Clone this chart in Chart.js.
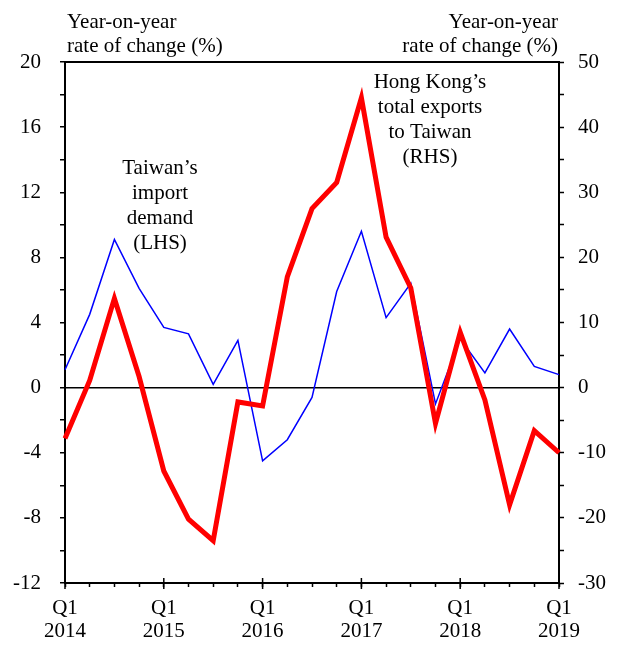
<!DOCTYPE html>
<html lang="en">
<head>
  <meta charset="UTF-8" />
  <title>Taiwan import demand vs Hong Kong exports to Taiwan</title>
  <script src="https://cdn.jsdelivr.net/npm/chart.js"></script>
  <style>
    html, body { margin: 0; padding: 0; background: #fff; }
    #wrap { width: 619px; height: 649px; }
  </style>
</head>
<body>
  <div id="wrap"><canvas id="chart" width="619" height="649"></canvas></div>

  <script>
    // quarters, Q1 2014 .. Q1 2019
    const quarters = [
      "2014 Q1", "2014 Q2", "2014 Q3", "2014 Q4",
      "2015 Q1", "2015 Q2", "2015 Q3", "2015 Q4",
      "2016 Q1", "2016 Q2", "2016 Q3", "2016 Q4",
      "2017 Q1", "2017 Q2", "2017 Q3", "2017 Q4",
      "2018 Q1", "2018 Q2", "2018 Q3", "2018 Q4",
      "2019 Q1"
    ];

    // Taiwan's import demand, yoy % (LHS)
    const taiwanImportDemand = [
      1.1, 4.5, 9.1, 6.1, 3.7, 3.3, 0.2, 2.9, -4.5, -3.2, -0.6,
      5.9, 9.6, 4.3, 6.4, -1.0, 3.0, 0.9, 3.6, 1.3, 0.8
    ];

    // Hong Kong's total exports to Taiwan, yoy % (RHS)
    const hkExportsToTaiwan = [
      -7.8, 1.1, 13.7, 1.7, -12.8, -20.2, -23.5, -2.2, -2.8, 17.0, 27.5,
      31.5, 44.5, 23.1, 15.3, -5.5, 8.5, -1.9, -18.0, -6.6, -10.0
    ];

    const leftAxis = { min: -12, max: 20, step: 2, labelEvery: 4 };
    const rightAxis = { min: -30, max: 50, step: 5, labelEvery: 10 };

    const FONT = "'Liberation Serif', 'Times New Roman', serif";
    const FS = 21;

    // top frame line, longer Q1 ticks, free text labels
    const extras = {
      id: "extras",
      afterDraw(chart) {
        const { ctx, chartArea: a } = chart;
        const xs = chart.scales.x;
        ctx.save();
        ctx.strokeStyle = "#000";
        ctx.lineWidth = 2;
        ctx.beginPath();
        ctx.moveTo(a.left - 1, a.top);
        ctx.lineTo(a.right + 1, a.top);
        ctx.stroke();

        // Q1 ticks cross the axis line
        ctx.lineWidth = 1.5;
        quarters.forEach((q, i) => {
          if (q.endsWith("Q1")) {
            const px = xs.getPixelForValue(i);
            ctx.beginPath();
            ctx.moveTo(px, a.bottom - 5);
            ctx.lineTo(px, a.bottom + 6);
            ctx.stroke();
          }
        });

        ctx.fillStyle = "#000";
        ctx.font = FS + "px " + FONT;
        ctx.textBaseline = "middle";

        ctx.textAlign = "left";
        ctx.fillText("Year-on-year", 67, 22);
        ctx.fillText("rate of change (%)", 67, 46);
        ctx.textAlign = "right";
        ctx.fillText("Year-on-year", 558, 22);
        ctx.fillText("rate of change (%)", 558, 46);

        ctx.textAlign = "center";
        ["Taiwan\u2019s", "import", "demand", "(LHS)"].forEach((t, i) => {
          ctx.fillText(t, 160, 168 + i * 25);
        });
        ["Hong Kong\u2019s", "total exports", "to Taiwan", "(RHS)"].forEach((t, i) => {
          ctx.fillText(t, 430, 82 + i * 25);
        });
        ctx.restore();
      }
    };

    new Chart(document.getElementById("chart"), {
      type: "line",
      data: {
        labels: quarters,
        datasets: [
          {
            label: "Hong Kong's total exports to Taiwan (RHS)",
            data: hkExportsToTaiwan,
            yAxisID: "yR",
            borderColor: "#ff0000",
            borderWidth: 5,
            borderJoinStyle: "miter",
            pointRadius: 0,
            tension: 0,
            fill: false
          },
          {
            label: "Taiwan's import demand (LHS)",
            data: taiwanImportDemand,
            yAxisID: "yL",
            borderColor: "#0000ff",
            borderWidth: 1.5,
            borderJoinStyle: "miter",
            pointRadius: 0,
            tension: 0,
            fill: false
          }
        ]
      },
      options: {
        responsive: false,
        animation: false,
        layout: { padding: { top: 62, left: 0, right: 0, bottom: 0 } },
        plugins: {
          legend: { display: false },
          tooltip: { enabled: false }
        },
        scales: {
          x: {
            offset: false,
            afterFit: s => { s.height = 66; },
            border: { display: true, color: "#000", width: 2 },
            grid: {
              offset: false,
              drawOnChartArea: false,
              tickLength: 4,
              tickColor: "#000",
              tickWidth: 1.5
            },
            ticks: {
              autoSkip: false,
              maxRotation: 0,
              padding: 10,
              color: "#000",
              font: { family: FONT, size: FS, lineHeight: 1.1 },
              callback: function (v, i) {
                const q = quarters[i].split(" ");
                return q[1] === "Q1" ? [q[1], q[0]] : "";
              }
            }
          },
          yL: {
            position: "left",
            min: leftAxis.min,
            max: leftAxis.max,
            afterFit: s => { s.width = 65; },
            border: { display: true, color: "#000", width: 2 },
            grid: {
              drawOnChartArea: true,
              color: c => (c.tick && c.tick.value === 0 ? "#000" : "rgba(0,0,0,0)"),
              lineWidth: 1.5,
              tickLength: 5,
              tickColor: "#000",
              tickWidth: 1.5
            },
            ticks: {
              stepSize: leftAxis.step,
              padding: 19,
              color: "#000",
              font: { family: FONT, size: FS },
              callback: v => (v % leftAxis.labelEvery === 0 ? v : "")
            }
          },
          yR: {
            position: "right",
            min: rightAxis.min,
            max: rightAxis.max,
            afterFit: s => { s.width = 60; },
            border: { display: true, color: "#000", width: 2 },
            grid: {
              drawOnChartArea: false,
              tickLength: 5,
              tickColor: "#000",
              tickWidth: 1.5
            },
            ticks: {
              stepSize: rightAxis.step,
              padding: 14,
              color: "#000",
              font: { family: FONT, size: FS },
              callback: v => (v % rightAxis.labelEvery === 0 ? v : "")
            }
          }
        }
      },
      plugins: [extras]
    });
  </script>
</body>
</html>
